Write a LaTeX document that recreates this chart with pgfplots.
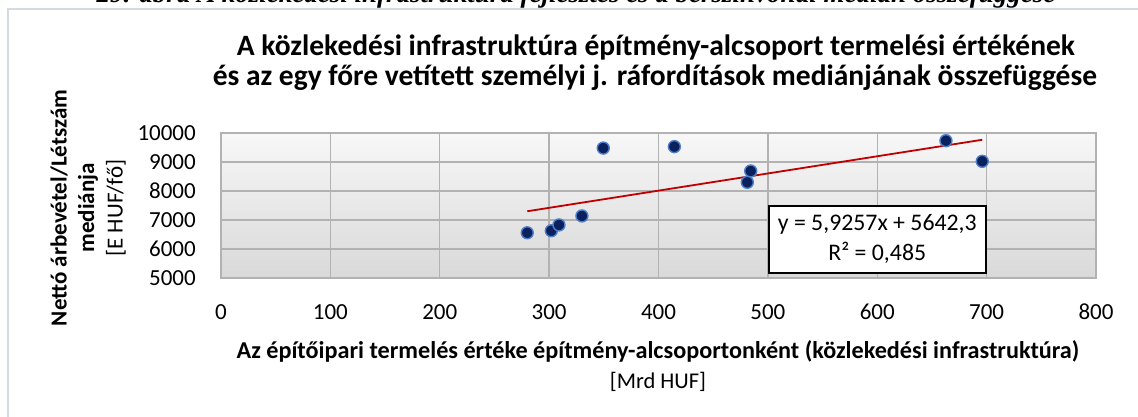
\documentclass[border=0pt]{standalone}
\usepackage{pgfplots}
\pgfplotsset{compat=1.18}
\usepackage{fontspec}
\setmainfont{Carlito}
\newfontfamily\capfont{Liberation Serif}
\definecolor{navy}{HTML}{0B215E}
\definecolor{ringblue}{HTML}{4F7FC8}
\definecolor{trendred}{HTML}{C00000}
\definecolor{framegray}{HTML}{D5DAE2}
\begin{document}
\begin{tikzpicture}[x=1pt,y=1pt]
\fill[white] (0,0) rectangle (1138,-416);
\draw[framegray, line width=1.2pt] (8,-440) -- (8,-9) -- (1160,-9);
\node[anchor=base, inner sep=0pt, font=\capfont\bfseries\itshape\fontsize{27}{30}\selectfont] at (576,-2.5) {29. ábra A közlekedési infrastruktúra fejlesztés és a bérszínvonal medián összefüggése};
\begin{axis}[
  at={(221pt,-278pt)}, anchor=south west,
  width=875pt, height=145pt, scale only axis,
  xmin=0, xmax=800, ymin=5000, ymax=10000,
  xtick={0,100,...,800}, ytick={5000,6000,...,10000},
  scaled ticks=false,
  /pgf/number format/assume math mode=true,
  /pgf/number format/1000 sep={},
  tick label style={font=\fontsize{23}{27}\selectfont, inner sep=0pt},
  xticklabel shift=26pt,
  yticklabel shift=25pt,
  major tick length=0pt,
  grid=major,
  major grid style={line width=1.4pt, black!30},
  axis line style={line width=1.4pt, black!30},
  axis background/.style={top color=black!3, bottom color=black!15},
  clip=false,
]
\addplot[only marks, mark=*, mark size=6pt,
  mark options={fill=navy, draw=ringblue, line width=1.4pt}]
  coordinates {
  (280,6560) (302,6630) (309,6830) (330,7140) (349.5,9480)
  (414.5,9530) (484.3,8690) (481.2,8300) (662.8,9735) (696,9024)
  };
\addplot[trendred, line width=1.8pt] coordinates {(280,7301.5) (696,9766.7)};
\node[draw=black, line width=2pt, fill=white, minimum width=217pt, minimum height=67pt,
  align=center, inner sep=2pt, font=\fontsize{23.8}{30}\selectfont]
  at (axis cs:600,6330) {y = 5,9257x + 5642,3\\R² = 0,485};
\end{axis}
\node[anchor=base, inner sep=0pt, font=\bfseries\fontsize{29.5}{30}\selectfont] at (656,-55)
  {A közlekedési infrastruktúra építmény-alcsoport termelési értékének};
\node[anchor=base, inner sep=0pt, font=\bfseries\fontsize{29.5}{30}\selectfont] at (655,-85)
  {és az egy főre vetített személyi j. ráfordítások mediánjának összefüggése};
\node[anchor=base, inner sep=0pt, font=\bfseries\fontsize{24.2}{26}\selectfont] at (658,-358)
  {Az építőipari termelés értéke építmény-alcsoportonként (közlekedési infrastruktúra)};
\node[anchor=base, inner sep=0pt, font=\fontsize{22.5}{26}\selectfont] at (658,-388)
  {[Mrd HUF]};
\node[rotate=90, inner sep=0pt, font=\bfseries\fontsize{23}{26}\selectfont] at (59,-208)
  {Nettó árbevétel/Létszám};
\node[rotate=90, inner sep=0pt, font=\bfseries\fontsize{23}{26}\selectfont] at (88,-208)
  {mediánja};
\node[rotate=90, inner sep=0pt, font=\fontsize{23}{26}\selectfont] at (116,-208)
  {[E HUF/fő]};
\pgfresetboundingbox
\useasboundingbox (0,0) rectangle (1138,-416);
\end{tikzpicture}
\end{document}
